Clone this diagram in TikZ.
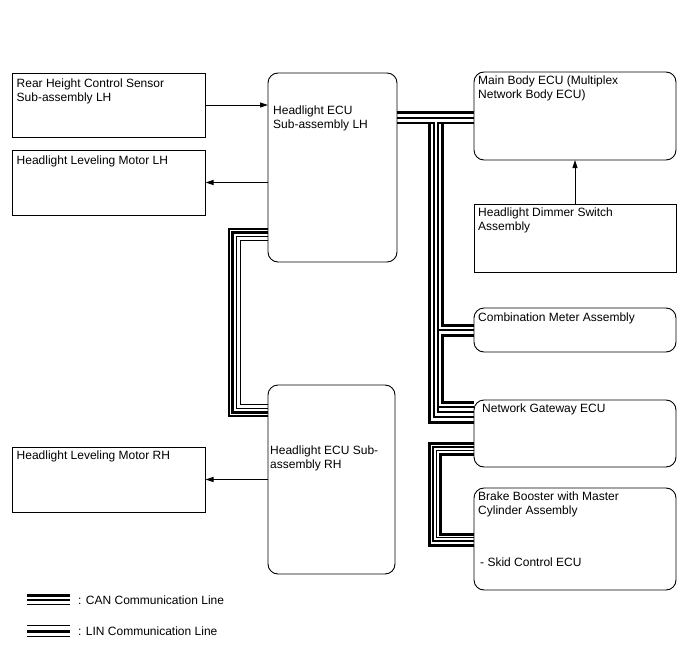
\documentclass[tikz,border=0pt]{standalone}
\usepackage{fontspec}
\setmainfont{Liberation Sans}
\usetikzlibrary{positioning, arrows.meta, calc}

\begin{document}
\begin{tikzpicture}[
  x=1pt, y=-1pt,
  >={Triangle[length=8pt, width=5pt]},
  box/.style={draw, line width=0.9pt, inner sep=0pt, outer sep=0pt},
  rbox/.style={box, rounded corners=10pt},
  lbl/.style={anchor=north west, align=left, inner sep=0pt,
    font=\fontsize{12}{13.5}\selectfont},
  arr/.style={->, line width=0.9pt},
  busthick/.style={line width=3pt},
  busthin/.style={line width=1.2pt},
]
\useasboundingbox (0,0) rectangle (688,658);

% --- Left column ---
\node[box, minimum width=193, minimum height=64,
  label={[lbl, xshift=4, yshift=-6]north west:{Rear Height Control Sensor\\Sub-assembly LH}}]
  (rhs) at (109,105) {};
\node[box, minimum width=193, minimum height=65,
  label={[lbl, xshift=4, yshift=-6]north west:{Headlight Leveling Motor LH}}]
  (lml) at (109,182.5) {};
\node[box, minimum width=193, minimum height=65,
  label={[lbl, xshift=4, yshift=-4]north west:{Headlight Leveling Motor RH}}]
  (lmr) at (109,479.5) {};

% --- Headlight ECUs ---
\node[rbox, minimum width=129, minimum height=189,
  label={[lbl, xshift=5, yshift=-33]north west:{Headlight ECU\\Sub-assembly LH}}]
  (ecuL) at (332.5,167.5) {};
\node[rbox, minimum width=127, minimum height=189,
  label={[lbl, xshift=2, yshift=-61]north west:{Headlight ECU Sub-\\assembly RH}}]
  (ecuR) at (331.5,479.5) {};

% --- Right column ---
\node[rbox, minimum width=202, minimum height=88,
  label={[lbl, xshift=4, yshift=-4]north west:{Main Body ECU (Multiplex\\Network Body ECU)}}]
  (mbe) at (575,116) {};
\node[box, minimum width=202, minimum height=68,
  label={[lbl, xshift=4, yshift=-4]north west:{Headlight Dimmer Switch\\Assembly}}]
  (dim) at (575,238) {};
\node[rbox, minimum width=202, minimum height=44,
  label={[lbl, xshift=4, yshift=-5]north west:{Combination Meter Assembly}}]
  (cmb) at (575,330) {};
\node[rbox, minimum width=202, minimum height=67,
  label={[lbl, xshift=8, yshift=-4]north west:{Network Gateway ECU}}]
  (gw) at (575,433.5) {};
\node[rbox, minimum width=202, minimum height=102,
  label={[lbl, xshift=4, yshift=-4]north west:{Brake Booster with Master\\Cylinder Assembly}},
  label={[lbl, xshift=6, yshift=-70]north west:{- Skid Control ECU}}]
  (brk) at (575,539) {};

% --- Signal arrows ---
\draw[arr] (rhs.east) -- (rhs.east -| ecuL.west);
\draw[arr] (lml.east -| ecuL.west) -- (lml.east);
\draw[arr] (lmr.east -| ecuR.west) -- (lmr.east);
\draw[arr] (dim.north) -- (dim.north |- mbe.south);

% --- LIN line between the headlight ECUs ---
\foreach \d/\s in {0/busthin, 3.8/busthick, 7.5/busthin, 11.2/busthin}
  \draw[\s] ($(ecuL.south west)+(0,\d-33)$) -| ($(ecuL.south west)+(\d-39,0)$)
    |- ($(ecuR.north west)+(0,31-\d)$);

% --- CAN bus ---
\draw[busthick] (ecuL.east |- 0,113) -- (mbe.west |- 0,113);
\draw[busthin] (ecuL.east |- 0,118) -- (mbe.west |- 0,118);
\draw[busthin] (ecuL.east |- 0,123) -| (434,417) -- (gw.west |- 0,417);
\draw[busthick] (429.5,122.4) |- (gw.west |- 0,422);
\draw[busthin] (mbe.west |- 0,123) -| (438,412) -- (gw.west |- 0,412);
\draw[busthick] (442,122.4) |- (cmb.west |- 0,325);
\draw[busthin] (438,330) -- (cmb.west |- 0,330);
\draw[busthick] (cmb.west |- 0,335) -| (442,402) -- (gw.west |- 0,402);
\draw[busthin] (438,407) -- (gw.west |- 0,407);

% gateway to brake booster
\foreach \x/\t/\b/\s in {429/443/545/busthick, 433/447/541/busthin,
    436.5/450.5/537.5/busthin, 440/454/534/busthick}
  \draw[\s] (gw.west |- 0,\t) -| (\x,\b) -- (brk.west |- 0,\b);

% --- Legend ---
\node[lbl, anchor=west] (canlbl) at (78,600) {: CAN Communication Line};
\node[lbl, anchor=west] (linlbl) at (78,631) {: LIN Communication Line};
\draw[busthick] (27,595) -- (70,595);
\draw[busthin] (27,600) -- (70,600);
\draw[busthin] (27,604.5) -- (70,604.5);
\draw[busthin] (27,625.5) -- (70,625.5);
\draw[busthick] (27,631) -- (70,631);
\draw[busthin] (27,636.5) -- (70,636.5);

\end{tikzpicture}
\end{document}
